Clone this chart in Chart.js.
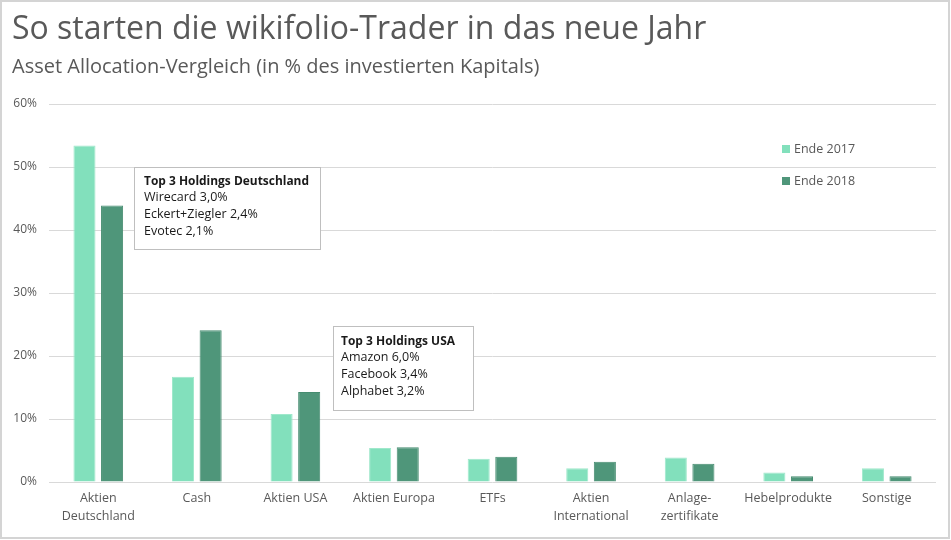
<!DOCTYPE html>
<html lang="de">
<head>
<meta charset="utf-8">
<title>So starten die wikifolio-Trader in das neue Jahr</title>
<script src="https://cdn.jsdelivr.net/npm/chart.js@4/dist/chart.umd.min.js"></script>
<style>
  html, body { margin: 0; padding: 0; background: #fff; }
  #wrap { width: 951px; height: 540px; position: relative; }
</style>
</head>
<body>
<div id="wrap"><canvas id="allocationChart"></canvas></div>
<script>
// Chart data
const categories = [
  ['Aktien', 'Deutschland'], 'Cash', 'Aktien USA', 'Aktien Europa', 'ETFs',
  ['Aktien', 'International'], ['Anlage-', 'zertifikate'], 'Hebelprodukte', 'Sonstige'
];
const ende2017 = [53.4, 16.7, 10.8, 5.4, 3.7, 2.2, 3.9, 1.5, 2.2];
const ende2018 = [43.9, 24.1, 14.3, 5.5, 4.0, 3.2, 2.9, 0.9, 0.9];
const yTicks = [0, 10, 20, 30, 40, 50, 60];

const titleText = 'So starten die wikifolio-Trader in das neue Jahr';
const subtitleText = 'Asset Allocation-Vergleich (in % des investierten Kapitals)';

const boxDeutschland = ['Top 3 Holdings Deutschland', 'Wirecard 3,0%', 'Eckert+Ziegler 2,4%', 'Evotec 2,1%'];
const boxUSA = ['Top 3 Holdings USA', 'Amazon 6,0%', 'Facebook 3,4%', 'Alphabet 3,2%'];

const TEXT = '#595959';
const FONT = '"Open Sans", "Noto Sans", sans-serif';

// title, subtitle, frame, legend and the two info boxes
const decorations = {
  id: 'decorations',
  afterDraw(chart) {
    const ctx = chart.ctx;
    ctx.save();

    // outer frame
    ctx.strokeStyle = '#d4d4d4';
    ctx.lineWidth = 2;
    ctx.strokeRect(1, 1, 948, 537);

    ctx.fillStyle = TEXT;
    ctx.textBaseline = 'alphabetic';
    ctx.textAlign = 'left';
    ctx.font = '32px ' + FONT;
    ctx.fillText(titleText, 12, 39, 706);
    ctx.font = '20px ' + FONT;
    ctx.fillText(subtitleText, 12, 73, 562);

    // legend (drawn over the plot like in the original)
    ctx.textBaseline = 'middle';
    chart.data.datasets.forEach((ds, i) => {
      const y = 149 + i * 32;
      ctx.fillStyle = ds.backgroundColor;
      ctx.fillRect(782, y - 4, 8, 8);
      ctx.fillStyle = TEXT;
      ctx.font = '12.5px ' + FONT;
      ctx.fillText(ds.label, 794, y + 0.5);
    });

    // info boxes
    const drawBox = (lines, x, y, w, h, tx, ty, boldWidth) => {
      ctx.fillStyle = '#fff';
      ctx.fillRect(x, y, w, h);
      ctx.strokeStyle = '#bfbfbf';
      ctx.lineWidth = 1;
      ctx.strokeRect(x + 0.5, y + 0.5, w, h);
      ctx.fillStyle = '#1a1a1a';
      lines.forEach((line, i) => {
        if (i === 0) {
          ctx.font = 'bold 12.5px ' + FONT;
          ctx.fillText(line, tx, ty, boldWidth);
        } else {
          ctx.font = '12.5px ' + FONT;
          ctx.fillText(line, tx, ty + i * 16.7);
        }
      });
    };
    drawBox(boxDeutschland, 134, 167, 186, 82, 144, 181, 165);
    drawBox(boxUSA, 333, 326, 140, 84, 341, 341, 114);

    ctx.restore();
  }
};

const ctx = document.getElementById('allocationChart').getContext('2d');
new Chart(ctx, {
  type: 'bar',
  data: {
    labels: categories,
    datasets: [{
      label: 'Ende 2017',
      data: ende2017,
      backgroundColor: '#82e0bc',
      borderColor: '#9fe8cb',
      borderWidth: 1,
      borderSkipped: 'bottom'
    }, {
      label: 'Ende 2018',
      data: ende2018,
      backgroundColor: '#4f967a',
      borderColor: '#468c70',
      borderWidth: 1,
      borderSkipped: 'bottom'
    }]
  },
  options: {
    responsive: true,
    maintainAspectRatio: false,
    animation: false,
    layout: { padding: { top: 104, right: 15, bottom: 0, left: 0 } },
    datasets: { bar: { categoryPercentage: 0.56, barPercentage: 0.8 } },
    plugins: {
      legend: { display: false },
      tooltip: { enabled: false },
      title: { display: false }
    },
    scales: {
      x: {
        grid: { display: false, drawTicks: false },
        border: { display: false },
        ticks: {
          color: TEXT,
          font: { family: FONT, size: 12.5, lineHeight: 1.45 },
          padding: 7,
          maxRotation: 0,
          autoSkip: false
        },
        afterFit: scale => { scale.height = 58; }
      },
      y: {
        min: yTicks[0],
        max: yTicks[yTicks.length - 1],
        afterBuildTicks: scale => { scale.ticks = yTicks.map(v => ({ value: v })); },
        grid: { color: '#d9d9d9', drawTicks: false },
        border: { display: false },
        ticks: {
          color: TEXT,
          font: { family: FONT, size: 12 },
          padding: 12,
          callback: v => v + '%'
        },
        afterFit: scale => { scale.width = 49; }
      }
    }
  },
  plugins: [decorations]
});
</script>
</body>
</html>
